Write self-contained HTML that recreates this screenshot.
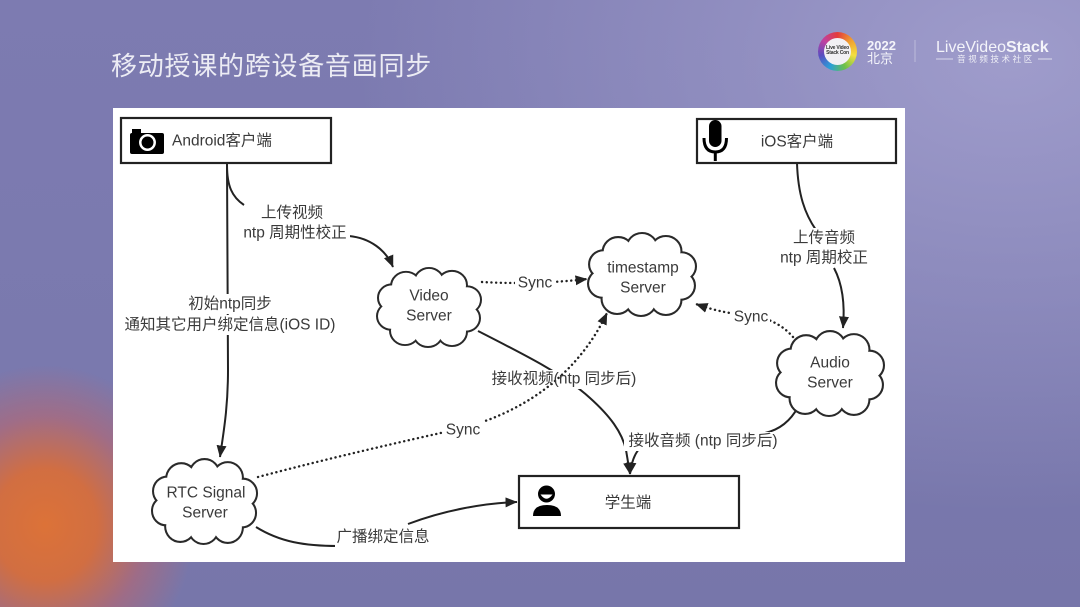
<!DOCTYPE html>
<html><head><meta charset="utf-8">
<style>
html,body{margin:0;padding:0;}
body{width:1080px;height:607px;overflow:hidden;position:relative;
background:
 radial-gradient(ellipse 150px 160px at 45px 525px, rgba(220,114,56,1) 0%, rgba(214,110,60,0.95) 35%, rgba(190,100,105,0.55) 68%, rgba(122,120,174,0) 100%),
 radial-gradient(ellipse 650px 450px at 1010px 60px, rgba(165,162,208,0.85), rgba(165,162,208,0) 100%),
 linear-gradient(180deg,#7d7bb1 0%,#7a79ae 60%,#7776aa 100%);
font-family:"Liberation Sans","Noto Sans CJK SC",sans-serif;}
.ring{position:absolute;left:818px;top:32px;width:39px;height:39px;border-radius:50%;
background:conic-gradient(#e43c3c,#f0a030,#f4e040,#6cc04a,#2aa0d8,#5a4cc0,#c040a0,#e43c3c);}
.ring .in{position:absolute;left:6px;top:6px;width:27px;height:27px;border-radius:50%;background:#f2f0f4;
font-size:5px;line-height:5px;color:#333;text-align:center;font-weight:bold;padding-top:8px;box-sizing:border-box;letter-spacing:-0.2px;}
</style></head>
<body>
<div class="ring"><div class="in">Live Video<br>Stack Con</div></div>
<svg width="1080" height="607" viewBox="0 0 1080 607" style="position:absolute;left:0;top:0" font-family="Liberation Sans, Noto Sans CJK SC, sans-serif">
<defs>
<marker id="ah" viewBox="0 0 12 10" refX="11.5" refY="5" markerWidth="12" markerHeight="10" markerUnits="userSpaceOnUse" orient="auto"><path d="M0,0 L12,5 L0,10 z" fill="#222"/></marker>
</defs>

<text x="111" y="75" font-size="26" fill="#ececf4" letter-spacing="0.75" font-family="Noto Sans CJK SC, sans-serif">移动授课的跨设备音画同步</text>

<text x="867" y="50" font-size="13" font-weight="bold" fill="#f4f4fa">2022</text>
<text x="867" y="63" font-size="13" fill="#f4f4fa" font-family="Noto Sans CJK SC, sans-serif">北京</text>
<line x1="915" y1="40" x2="915" y2="62" stroke="rgba(255,255,255,0.35)" stroke-width="1"/>
<text x="936" y="52" font-size="16" fill="#f4f4fa"><tspan>LiveVideo</tspan><tspan font-weight="bold">Stack</tspan></text>
<line x1="936" y1="59" x2="953" y2="59" stroke="#eeeef6" stroke-width="0.8"/>
<line x1="1038" y1="59" x2="1052" y2="59" stroke="#eeeef6" stroke-width="0.8"/>
<text x="996" y="62" font-size="8.5" fill="#eeeef6" text-anchor="middle" letter-spacing="2.6" font-family="Noto Sans CJK SC, sans-serif">音视频技术社区</text>

<rect x="113" y="108" width="792" height="454" fill="#ffffff"/>

<g fill="none" stroke="#222" stroke-width="2">
<path d="M227,163 C227,250 228,330 228,370 C228,410 223,435 220,457" marker-end="url(#ah)"/>
<path d="M227,165 C227,186 232,197 244,205"/>
<path d="M349,236 C370,238 386,250 393,267" marker-end="url(#ah)"/>
<path d="M797,163 C798,195 805,214 816,230"/>
<path d="M834,268 C843,285 845,305 843,328" marker-end="url(#ah)"/>
<path d="M478,331 C525,355 565,375 590,398 C610,416 622,432 626,450 L630,474" marker-end="url(#ah)"/>
<path d="M798,407 C790,422 778,430 765,433 L660,440 C642,442 633,450 630,474" marker-end="url(#ah)"/>
<path d="M256,527 C280,542 305,546 338,546"/>
<path d="M408,524 C445,510 485,503 517,502" marker-end="url(#ah)"/>
</g>

<g fill="none" stroke="#222" stroke-width="2.4" stroke-dasharray="0.1 4.6" stroke-linecap="round">
<path d="M482,282 Q535,285 587,279" marker-end="url(#ah)"/>
<path d="M793,337 C780,322 762,316 745,315 C725,313 710,309 696,304" marker-end="url(#ah)"/>
</g>

<g fill="#fff">
<rect x="258" y="203" width="70" height="19"/>
<rect x="238" y="223" width="112" height="19"/>
<rect x="184" y="294" width="92" height="20"/>
<rect x="121" y="315" width="218" height="20"/>
<rect x="515" y="274" width="40" height="18"/>
<rect x="732" y="308" width="38" height="18"/>
<rect x="791" y="228" width="66" height="19"/>
<rect x="777" y="248" width="94" height="19"/>
<rect x="488" y="370" width="152" height="19"/>
<rect x="624" y="432" width="158" height="19"/>
<rect x="335" y="527" width="95" height="20"/>
</g>

<path d="M258,477 C330,458 400,442 463,428 C530,410 580,370 607,313" fill="none" stroke="#222" stroke-width="2.4" stroke-dasharray="0.1 4.6" stroke-linecap="round" marker-end="url(#ah)"/>
<rect x="443" y="421" width="40" height="18" fill="#fff"/>

<g transform="translate(376,267) scale(1,0.964)">
<g fill="#fff" stroke="#2a2a2a" stroke-width="4"><circle cx="30" cy="20" r="14"/><circle cx="53" cy="16" r="14"/><circle cx="76" cy="19" r="14"/><circle cx="91" cy="34" r="13"/><circle cx="90" cy="53" r="13"/><circle cx="76" cy="67" r="14"/><circle cx="52" cy="68" r="14"/><circle cx="29" cy="66" r="14"/><circle cx="15" cy="51" r="13"/><circle cx="16" cy="32" r="13"/></g>
<g fill="#fff"><circle cx="30" cy="20" r="14"/><circle cx="53" cy="16" r="14"/><circle cx="76" cy="19" r="14"/><circle cx="91" cy="34" r="13"/><circle cx="90" cy="53" r="13"/><circle cx="76" cy="67" r="14"/><circle cx="52" cy="68" r="14"/><circle cx="29" cy="66" r="14"/><circle cx="15" cy="51" r="13"/><circle cx="16" cy="32" r="13"/><ellipse cx="53" cy="42" rx="38" ry="26"/></g>
</g>
<g transform="translate(587,232) scale(1.038,1.012)">
<g fill="#fff" stroke="#2a2a2a" stroke-width="4"><circle cx="30" cy="20" r="14"/><circle cx="53" cy="16" r="14"/><circle cx="76" cy="19" r="14"/><circle cx="91" cy="34" r="13"/><circle cx="90" cy="53" r="13"/><circle cx="76" cy="67" r="14"/><circle cx="52" cy="68" r="14"/><circle cx="29" cy="66" r="14"/><circle cx="15" cy="51" r="13"/><circle cx="16" cy="32" r="13"/></g>
<g fill="#fff"><circle cx="30" cy="20" r="14"/><circle cx="53" cy="16" r="14"/><circle cx="76" cy="19" r="14"/><circle cx="91" cy="34" r="13"/><circle cx="90" cy="53" r="13"/><circle cx="76" cy="67" r="14"/><circle cx="52" cy="68" r="14"/><circle cx="29" cy="66" r="14"/><circle cx="15" cy="51" r="13"/><circle cx="16" cy="32" r="13"/><ellipse cx="53" cy="42" rx="38" ry="26"/></g>
</g>
<g transform="translate(775,330) scale(1.038,1.036)">
<g fill="#fff" stroke="#2a2a2a" stroke-width="4"><circle cx="30" cy="20" r="14"/><circle cx="53" cy="16" r="14"/><circle cx="76" cy="19" r="14"/><circle cx="91" cy="34" r="13"/><circle cx="90" cy="53" r="13"/><circle cx="76" cy="67" r="14"/><circle cx="52" cy="68" r="14"/><circle cx="29" cy="66" r="14"/><circle cx="15" cy="51" r="13"/><circle cx="16" cy="32" r="13"/></g>
<g fill="#fff"><circle cx="30" cy="20" r="14"/><circle cx="53" cy="16" r="14"/><circle cx="76" cy="19" r="14"/><circle cx="91" cy="34" r="13"/><circle cx="90" cy="53" r="13"/><circle cx="76" cy="67" r="14"/><circle cx="52" cy="68" r="14"/><circle cx="29" cy="66" r="14"/><circle cx="15" cy="51" r="13"/><circle cx="16" cy="32" r="13"/><ellipse cx="53" cy="42" rx="38" ry="26"/></g>
</g>
<g transform="translate(151,458) scale(1.01,1.036)">
<g fill="#fff" stroke="#2a2a2a" stroke-width="4"><circle cx="30" cy="20" r="14"/><circle cx="53" cy="16" r="14"/><circle cx="76" cy="19" r="14"/><circle cx="91" cy="34" r="13"/><circle cx="90" cy="53" r="13"/><circle cx="76" cy="67" r="14"/><circle cx="52" cy="68" r="14"/><circle cx="29" cy="66" r="14"/><circle cx="15" cy="51" r="13"/><circle cx="16" cy="32" r="13"/></g>
<g fill="#fff"><circle cx="30" cy="20" r="14"/><circle cx="53" cy="16" r="14"/><circle cx="76" cy="19" r="14"/><circle cx="91" cy="34" r="13"/><circle cx="90" cy="53" r="13"/><circle cx="76" cy="67" r="14"/><circle cx="52" cy="68" r="14"/><circle cx="29" cy="66" r="14"/><circle cx="15" cy="51" r="13"/><circle cx="16" cy="32" r="13"/><ellipse cx="53" cy="42" rx="38" ry="26"/></g>
</g>

<g fill="#fff" stroke="#222" stroke-width="2.2">
<rect x="121" y="118" width="210" height="45"/>
<rect x="697" y="119" width="199" height="44"/>
<rect x="519" y="476" width="220" height="52"/>
</g>

<rect x="130" y="133" width="34" height="21" rx="2" fill="#000"/>
<rect x="132" y="129" width="9" height="5" fill="#000"/>
<circle cx="147.5" cy="142.5" r="7.2" fill="#000" stroke="#fff" stroke-width="2.5"/>

<rect x="709" y="120" width="12.5" height="27" rx="6.2" fill="#000"/>
<path d="M704,138 Q704,152 715.3,152 Q726.5,152 726.5,138" fill="none" stroke="#000" stroke-width="3"/>
<line x1="715.3" y1="152" x2="715.3" y2="161" stroke="#000" stroke-width="3"/>

<circle cx="546.5" cy="494" r="8.5" fill="#000"/>
<path d="M540.5,494.5 Q546.5,503 552.5,494.5 Z" fill="#fff"/>
<path d="M533,516 Q533,505 547,505 Q561,505 561,516 Z" fill="#000"/>

<g fill="#3a3a3a" font-size="15.5" dominant-baseline="central" text-anchor="middle">
<text x="172" y="141" text-anchor="start">Android客户端</text>
<text x="797" y="142">iOS客户端</text>
<text x="628" y="503">学生端</text>
<text x="292" y="213">上传视频</text>
<text x="295" y="233">ntp 周期性校正</text>
<text x="230" y="304">初始ntp同步</text>
<text x="230" y="325">通知其它用户绑定信息(iOS ID)</text>
<text x="429" y="296">Video</text>
<text x="429" y="316">Server</text>
<text x="643" y="268">timestamp</text>
<text x="643" y="288">Server</text>
<text x="535" y="283">Sync</text>
<text x="751" y="317">Sync</text>
<text x="824" y="238">上传音频</text>
<text x="824" y="258">ntp 周期校正</text>
<text x="830" y="363">Audio</text>
<text x="830" y="383">Server</text>
<text x="564" y="379">接收视频(ntp 同步后)</text>
<text x="463" y="430">Sync</text>
<text x="703" y="441">接收音频 (ntp 同步后)</text>
<text x="206" y="493">RTC Signal</text>
<text x="205" y="513">Server</text>
<text x="383" y="537">广播绑定信息</text>
</g>
</svg>
</body></html>
